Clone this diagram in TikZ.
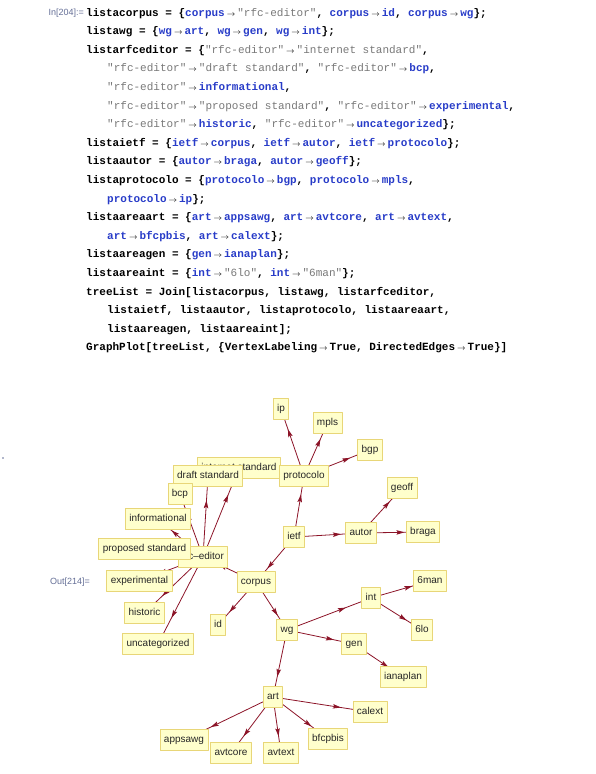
\documentclass[tikz,border=0pt]{standalone}
\usepackage{fontspec}
\setmainfont{Liberation Sans}
\newfontfamily\codefont{Liberation Mono}
\usetikzlibrary{arrows.meta,decorations.markings,backgrounds}
\definecolor{edgered}{RGB}{140,20,40}
\definecolor{boxfill}{RGB}{255,255,204}
\definecolor{boxline}{RGB}{232,214,120}
\definecolor{symblue}{RGB}{40,60,200}
\definecolor{strgray}{RGB}{120,120,120}
\definecolor{promptblue}{RGB}{100,110,150}
\tikzset{
    codeline/.style={
        anchor=base west, inner sep=0pt,
        font=\codefont\bfseries\fontsize{11}{13}\selectfont
    }
}
\newcommand{\sy}[1]{\textcolor{symblue}{#1}}
\newcommand{\st}[1]{{\mdseries\textcolor{strgray}{#1}}}
\newcommand{\ar}{\kern2pt$\scriptstyle\rightarrow$\kern2pt}

\begin{document}
\begin{tikzpicture}[x=1pt,y=-1pt, line cap=round, line join=round]

\tikzset{
  vbox/.style={draw=boxline, fill=boxfill, line width=0.8pt, inner xsep=4pt, inner ysep=0pt,
    minimum height=21pt, text height=7.5pt, text depth=2pt, font=\fontsize{10}{12}\selectfont, text=black!85},
  link/.style={edgered, line width=0.8pt, postaction={decorate},
    decoration={markings, mark=at position 0.7 with {\arrow{Stealth[length=8pt,width=4.5pt,inset=1.5pt]}}}},
  prompt/.style={anchor=east, inner sep=0pt, font=\fontsize{9}{11}\selectfont, text=promptblue},
}

\useasboundingbox (0,0) rectangle (595,774);

% input cell
\node[prompt] (inlab) at (84,13) {In[204]:=};
\node[codeline] (l1) at (86,16) {listacorpus = \{\sy{corpus}\ar\st{"rfc-editor"}, \sy{corpus}\ar\sy{id}, \sy{corpus}\ar\sy{wg}\};};
\node[codeline] (l2) at (86,34.6) {listawg = \{\sy{wg}\ar\sy{art}, \sy{wg}\ar\sy{gen}, \sy{wg}\ar\sy{int}\};};
\node[codeline] (l3) at (86,53.2) {listarfceditor = \{\st{"rfc-editor"}\ar\st{"internet standard"},};
\node[codeline] (l4) at (107,71.8) {\st{"rfc-editor"}\ar\st{"draft standard"}, \st{"rfc-editor"}\ar\sy{bcp},};
\node[codeline] (l5) at (107,90.4) {\st{"rfc-editor"}\ar\sy{informational},};
\node[codeline] (l6) at (107,109) {\st{"rfc-editor"}\ar\st{"proposed standard"}, \st{"rfc-editor"}\ar\sy{experimental},};
\node[codeline] (l7) at (107,127.6) {\st{"rfc-editor"}\ar\sy{historic}, \st{"rfc-editor"}\ar\sy{uncategorized}\};};
\node[codeline] (l8) at (86,146.2) {listaietf = \{\sy{ietf}\ar\sy{corpus}, \sy{ietf}\ar\sy{autor}, \sy{ietf}\ar\sy{protocolo}\};};
\node[codeline] (l9) at (86,164.8) {listaautor = \{\sy{autor}\ar\sy{braga}, \sy{autor}\ar\sy{geoff}\};};
\node[codeline] (l10) at (86,183.4) {listaprotocolo = \{\sy{protocolo}\ar\sy{bgp}, \sy{protocolo}\ar\sy{mpls},};
\node[codeline] (l11) at (107,202) {\sy{protocolo}\ar\sy{ip}\};};
\node[codeline] (l12) at (86,220.6) {listaareaart = \{\sy{art}\ar\sy{appsawg}, \sy{art}\ar\sy{avtcore}, \sy{art}\ar\sy{avtext},};
\node[codeline] (l13) at (107,239.2) {\sy{art}\ar\sy{bfcpbis}, \sy{art}\ar\sy{calext}\};};
\node[codeline] (l14) at (86,257.8) {listaareagen = \{\sy{gen}\ar\sy{ianaplan}\};};
\node[codeline] (l15) at (86,276.4) {listaareaint = \{\sy{int}\ar\st{"6lo"}, \sy{int}\ar\st{"6man"}\};};
\node[codeline] (l16) at (86,295) {treeList = Join[listacorpus, listawg, listarfceditor,};
\node[codeline] (l17) at (107,313.6) {listaietf, listaautor, listaprotocolo, listaareaart,};
\node[codeline] (l18) at (107,332.2) {listaareagen, listaareaint];};
\node[codeline] (l19) at (86,350.8) {GraphPlot[treeList, \{VertexLabeling\ar True, DirectedEdges\ar True\}]};

% output cell
\fill[promptblue] (3,458) circle (0.8);
\node[prompt] (outlab) at (90,582) {Out[214]=};

% vertices (later ones lie on top)
\node[vbox] (inetstd) at (239,468) {internet standard};
\node[vbox] (draftstd) at (208,476) {draft standard};
\node[vbox] (protocolo) at (304,476) {protocolo};
\node[vbox] (ip) at (281,409) {ip};
\node[vbox] (mpls) at (327.5,423) {mpls};
\node[vbox] (bgp) at (370,450) {bgp};
\node[vbox] (bcp) at (180,494) {bcp};
\node[vbox] (informational) at (158,519) {informational};
\node[vbox] (rfceditor) at (203,557) {rfc--editor};
\node[vbox] (propstd) at (144.5,549) {proposed standard};
\node[vbox] (ietf) at (294,537) {ietf};
\node[vbox] (autor) at (361,533) {autor};
\node[vbox] (braga) at (423,532) {braga};
\node[vbox] (geoff) at (402,488) {geoff};
\node[vbox] (corpus) at (256,582) {corpus};
\node[vbox] (experimental) at (139.5,581) {experimental};
\node[vbox] (historic) at (144.5,613) {historic};
\node[vbox] (id) at (218,625) {id};
\node[vbox] (uncat) at (158,644) {uncategorized};
\node[vbox] (wg) at (287,630) {wg};
\node[vbox] (int) at (371,598) {int};
\node[vbox] (sixman) at (430,581) {6man};
\node[vbox] (sixlo) at (422,630) {6lo};
\node[vbox] (gen) at (354,644) {gen};
\node[vbox] (ianaplan) at (403,677) {ianaplan};
\node[vbox] (art) at (273,697) {art};
\node[vbox] (calext) at (370,712) {calext};
\node[vbox] (appsawg) at (184,740) {appsawg};
\node[vbox] (avtcore) at (231,753) {avtcore};
\node[vbox] (avtext) at (281,753) {avtext};
\node[vbox] (bfcpbis) at (328,739) {bfcpbis};

% edges, centre to centre, under the boxes
\begin{pgfonlayer}{background}
\draw[link] (corpus.center) -- (rfceditor.center);
\draw[link] (corpus.center) -- (id.center);
\draw[link] (corpus.center) -- (wg.center);
\draw[link] (wg.center) -- (art.center);
\draw[link] (wg.center) -- (gen.center);
\draw[link] (wg.center) -- (int.center);
\draw[link] (rfceditor.center) -- (inetstd.center);
\draw[link] (rfceditor.center) -- (draftstd.center);
\draw[link] (rfceditor.center) -- (bcp.center);
\draw[link] (rfceditor.center) -- (informational.center);
\draw[link] (rfceditor.center) -- (propstd.center);
\draw[link] (rfceditor.center) -- (experimental.center);
\draw[link] (rfceditor.center) -- (historic.center);
\draw[link] (rfceditor.center) -- (uncat.center);
\draw[link] (ietf.center) -- (corpus.center);
\draw[link] (ietf.center) -- (autor.center);
\draw[link] (ietf.center) -- (protocolo.center);
\draw[link] (autor.center) -- (braga.center);
\draw[link] (autor.center) -- (geoff.center);
\draw[link] (protocolo.center) -- (bgp.center);
\draw[link] (protocolo.center) -- (mpls.center);
\draw[link] (protocolo.center) -- (ip.center);
\draw[link] (art.center) -- (appsawg.center);
\draw[link] (art.center) -- (avtcore.center);
\draw[link] (art.center) -- (avtext.center);
\draw[link] (art.center) -- (bfcpbis.center);
\draw[link] (art.center) -- (calext.center);
\draw[link] (gen.center) -- (ianaplan.center);
\draw[link] (int.center) -- (sixlo.center);
\draw[link] (int.center) -- (sixman.center);
\end{pgfonlayer}

\end{tikzpicture}
\end{document}
